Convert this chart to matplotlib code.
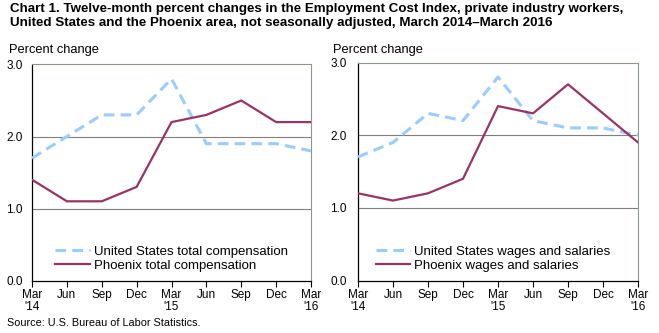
import matplotlib
matplotlib.use("Agg")
import matplotlib.pyplot as plt

plt.rcParams['font.family'] = ['Liberation Sans', 'DejaVu Sans']

months = ["Mar\n'14", "Jun", "Sep", "Dec", "Mar\n'15", "Jun", "Sep", "Dec", "Mar\n'16"]
us_total = [1.7, 2.0, 2.3, 2.3, 2.8, 1.9, 1.9, 1.9, 1.8]
phx_total = [1.4, 1.1, 1.1, 1.3, 2.2, 2.3, 2.5, 2.2, 2.2]
us_wages = [1.7, 1.9, 2.3, 2.2, 2.8, 2.2, 2.1, 2.1, 2.0]
phx_wages = [1.2, 1.1, 1.2, 1.4, 2.4, 2.3, 2.7, 2.3, 1.9]
yticks = [0.0, 1.0, 2.0, 3.0]

US_C = '#99ccff'
PHX_C = '#993366'
W, H = 659, 333
fig = plt.figure(figsize=(W / 100, H / 100), dpi=100)

def px_axes(x0, x1, ytop, ybot):
    return fig.add_axes([x0 / W, 1 - ybot / H, (x1 - x0) / W, (ybot - ytop) / H])

panels = [
    (px_axes(32, 311, 64.5, 280.5), us_total, phx_total,
     'United States total compensation', 'Phoenix total compensation', 9, 0.065, 6.5),
    (px_axes(358, 638, 62.5, 280.5), us_wages, phx_wages,
     'United States wages and salaries', 'Phoenix wages and salaries', 333, 0.045, 8),
]

for ax, us, phx, l1, l2, labx, legx, ypad in panels:
    x = list(range(len(months)))
    for g in [1.0, 2.0]:
        ax.axhline(g, color='#7f7f7f', lw=0.8, zorder=1)
    ax.plot(x, us, color=US_C, lw=2.2, ls=(0, (3.5, 2.0)), label=l1, zorder=3)
    ax.plot(x, phx, color=PHX_C, lw=1.6, label=l2, zorder=3)
    ax.set_xlim(0, len(months) - 1)
    ax.set_ylim(0, 3.0)
    ax.set_yticks(yticks)
    ax.set_yticklabels([f'{v:.1f}' for v in yticks], fontsize=8.5)
    ax.set_xticks(x)
    ax.set_xticklabels(months, fontsize=8.5, linespacing=1.05)
    ax.tick_params(axis='y', length=0, pad=ypad)
    ax.tick_params(axis='x', length=4, width=0.8, direction='out', pad=2)
    for s in ['left', 'bottom']:
        ax.spines[s].set_color('black')
        ax.spines[s].set_linewidth(0.9)
    for s in ['top', 'right']:
        ax.spines[s].set_color('#8c9a8c')
        ax.spines[s].set_linewidth(0.8)
    ax.legend(loc='lower left', frameon=False, fontsize=9.5, handlelength=2.6,
              handletextpad=0.3, labelspacing=0.15, borderaxespad=0.0,
              bbox_to_anchor=(legx, 0.015))
    fig.text(labx / W, 1 - 50 / H, 'Percent change', fontsize=9.3, va='center', ha='left')

fig.text(10 / W, 1 - 3 / H,
         'Chart 1. Twelve-month percent changes in the Employment Cost Index, private industry workers,\n'
         'United States and the Phoenix area, not seasonally adjusted, March 2014\u2013March 2016',
         fontsize=9.6, fontweight='bold', va='top', ha='left', linespacing=1.2)
fig.text(7 / W, 1 - 323 / H, 'Source: U.S. Bureau of Labor Statistics.', fontsize=7.8,
         va='center', ha='left')

fig.savefig('out.png', dpi=100)
